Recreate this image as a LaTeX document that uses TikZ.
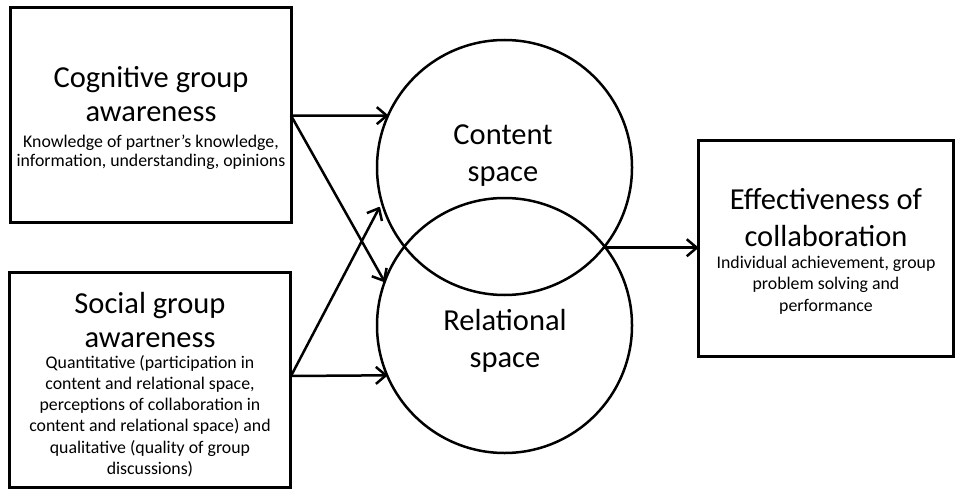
\documentclass[tikz,border=0pt]{standalone}
\usepackage{fontspec}
\setmainfont{Carlito}
\usetikzlibrary{arrows.meta}
\begin{document}
\begin{tikzpicture}[x=1pt,y=-1pt,
  box/.style={draw, line width=3pt, inner sep=0pt, outer sep=0pt},
  space/.style={draw, circle, line width=2.5pt, minimum size=255pt, inner sep=0pt, outer sep=0pt},
  title/.style={font=\fontsize{30.5}{34}\selectfont, align=center, anchor=base, inner sep=0pt},
  desc/.style={font=\fontsize{17.8}{20}\selectfont, align=center, anchor=base, inner sep=0pt},
  arr/.style={line width=2.5pt, -{Straight Barb[length=10pt,width=17pt,line join=round]}}]
\useasboundingbox (0,0) rectangle (960,497);
% boxes
\node[box, minimum width=281pt, minimum height=215pt] (cog) at (150.5,115) {};
\node[box, minimum width=281pt, minimum height=214.5pt] (soc) at (150,380) {};
\node[box, minimum width=255pt, minimum height=215.5pt] (eff) at (825.5,248.3) {};
% circles
\node[space] (content) at (504.5,167.5) {};
\node[space] (relational) at (504.5,325.5) {};
% texts (anchored at the baseline of their last line)
\node[title] (cogT) at (151,122) {Cognitive group\\awareness};
\node[desc, font=\fontsize{17.8}{19.7}\selectfont] (cogD) at (151,167) {Knowledge of partner’s knowledge,\\information, understanding, opinions};
\node[title] (socT) at (150,347) {Social group\\awareness};
\node[desc, font=\fontsize{17.8}{21.3}\selectfont] (socD) at (150,474.5) {Quantitative (participation in\\content and relational space,\\perceptions of collaboration in\\content and relational space) and\\qualitative (quality of group\\discussions)};
\node[title, font=\fontsize{30.5}{37}\selectfont] (conT) at (503,182) {Content\\space};
\node[title, font=\fontsize{30.5}{37}\selectfont] (relT) at (505,367) {Relational\\space};
\node[title, font=\fontsize{30.5}{37}\selectfont] (effT) at (826,246) {Effectiveness of\\collaboration};
\node[desc, font=\fontsize{17.8}{21.5}\selectfont] (effD) at (826,311) {Individual achievement, group\\problem solving and\\performance};
% connectors
\coordinate (sout) at (291,376);
\coordinate (cin) at (291,115.5);
\draw[arr] (cin) -- (content.156);
\draw[arr] (cin) -- (relational.160.5);
\draw[arr] (sout) -- (relational.203.3);
\draw[arr, shorten >=5pt] (sout) -- (content.196);
\coordinate (x) at (content.321.4);
\draw[arr] (x) -- (x -| eff.west);
\end{tikzpicture}
\end{document}
